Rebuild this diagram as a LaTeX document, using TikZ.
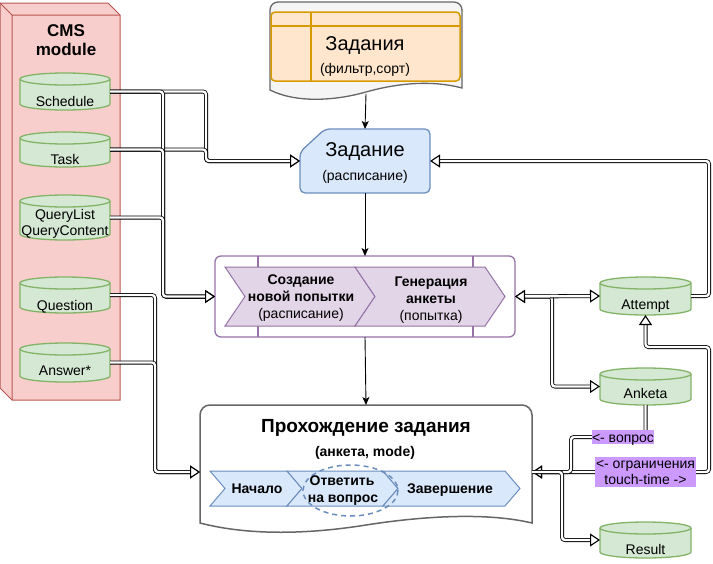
\documentclass[tikz,border=0pt]{standalone}
\usepackage{fontspec}
\setmainfont{Liberation Sans}
\usetikzlibrary{arrows.meta}
\definecolor{cmsfill}{HTML}{F8CECC}
\definecolor{cmsline}{HTML}{B85450}
\definecolor{gfill}{HTML}{D5E8D4}
\definecolor{gline}{HTML}{82B366}
\definecolor{ofill}{HTML}{FFE6CC}
\definecolor{oline}{HTML}{D79B00}
\definecolor{bfill}{HTML}{DAE8FC}
\definecolor{bline}{HTML}{6C8EBF}
\definecolor{pfill}{HTML}{E1D5E7}
\definecolor{pline}{HTML}{9673A6}
\definecolor{docfill}{HTML}{F5F5F5}
\definecolor{docline}{HTML}{666666}
\definecolor{lblfill}{HTML}{CC99FF}
\tikzset{
  t14/.style={font=\fontsize{14}{17}\selectfont, inner sep=0pt, anchor=base},
  b14/.style={font=\fontsize{14}{17}\selectfont\bfseries, inner sep=0pt, anchor=base},
  t20/.style={font=\fontsize{20}{24}\selectfont, inner sep=0pt, anchor=base},
  b19/.style={font=\fontsize{19}{23}\selectfont\bfseries, inner sep=0pt, anchor=base},
  b17/.style={font=\fontsize{17}{20}\selectfont\bfseries, inner sep=0pt, anchor=base},
  box/.style={inner sep=0pt, outer sep=0pt},
  cylbody/.style={fill=gfill, draw=gline, line width=1.3pt},
  conn/.style={draw=black, line width=0.8pt, double=white, double distance=2.4pt, rounded corners=3pt},
  htip/.tip={Triangle[length=10pt,width=13pt,fill=white,line width=1.1pt]},
  hd/.style={-htip},
  tips/.style={htip-htip},
  flow/.style={draw=black, line width=0.9pt, -{Stealth[length=8pt,width=7pt,inset=2pt]}},
  lblbox/.style={box, fill=lblfill},
}
% name, x0, y0, x1, y1
\newcommand\dbcyl[5]{%
  \pgfmathsetmacro\cyA{(#4-#2)/2}%
  \draw[cylbody] (#2,#3+6) -- (#2,#5-6) arc[start angle=180,end angle=0,x radius=\cyA,y radius=6]
     -- (#4,#3+6) arc[start angle=0,end angle=-180,x radius=\cyA,y radius=6] -- cycle;
  \draw[cylbody, fill=none] (#2,#3+6) arc[start angle=180,end angle=0,x radius=\cyA,y radius=6];
  \node[box, minimum width={(#4-#2)*1pt}, minimum height={(#5-#3)*1pt}] (#1) at ({(#2+#4)/2},{(#3+#5)/2}) {};
}
\begin{document}
\begin{tikzpicture}[x=1pt,y=-1pt]
\useasboundingbox (0,0) rectangle (713,563);

% ---------- CMS module cube
\node[box, minimum width=108pt, minimum height=385pt] (cms) at (66,207.5) {};
\draw[cmsline, fill=cmsfill, line width=1pt]
  (0,3) -- (108,3) -- (120,15) -- (120,400) -- (12,400) -- (0,388) -- cycle;
\draw[cmsline, line width=1pt] (0,3) -- (12,15) -- (120,15) (12,15) -- (12,400);
\node[b17] (cms-t1) at (66,36.5) {CMS};
\node[b17] (cms-t2) at (66,55) {module};

\dbcyl{sch}{20}{73}{110}{110}
\node[t14] (sch-t) at (65,106) {Schedule};
\dbcyl{task}{20}{132}{110}{167}
\node[t14] (task-t) at (65,164) {Task};
\dbcyl{ql}{20}{195}{110}{240}
\node[t14] (ql-t1) at (65,219) {QueryList};
\node[t14] (ql-t2) at (65,235) {QueryContent};
\dbcyl{q}{20}{277}{110}{313}
\node[t14] (q-t) at (65,310) {Question};
\dbcyl{ans}{20}{343}{110}{382}
\node[t14] (ans-t) at (65,375) {Answer*};

% ---------- right cylinders
\dbcyl{att}{600}{277}{691}{315}
\node[t14] (att-t) at (645.5,309) {Attempt};
\dbcyl{ank}{600}{368}{691}{405}
\node[t14] (ank-t) at (645.5,398) {Anketa};
\dbcyl{res}{600}{522}{691}{558}
\node[t14] (res-t) at (645.5,554) {Result};

% ---------- top document: Задания
\node[box, minimum width=192pt, minimum height=92pt] (tasks) at (366,48) {};
\draw[docline, fill=docfill, line width=1.3pt]
  (270,90) -- (270,10) arc[start angle=180,end angle=270,radius=8]
  -- (454,2) arc[start angle=270,end angle=360,radius=8]
  -- (462,88) .. controls (432,80) and (398,83) .. (366,92)
  .. controls (338,100) and (298,104) .. (270,90) -- cycle;
\draw[oline, fill=ofill, line width=1.5pt, rounded corners=4pt] (271,12) rectangle (460,81);
\draw[oline, line width=1.5pt] (271,26) -- (460,26) (311,12) -- (311,81);
\node[t20] (tasks-t) at (365,50) {Задания};
\node[t14] (tasks-s) at (365,73) {(фильтр,сорт)};

% ---------- Задание card
\node[box, minimum width=130pt, minimum height=64pt] (zad) at (365,161) {};
\draw[bline, fill=bfill, line width=1.3pt, rounded corners=5pt]
  (325,129) -- (430,129) -- (430,193) -- (300,193) -- (300,152) -- cycle;
\node[t20] (zad-t) at (365,156) {Задание};
\node[t14] (zad-s) at (365,180) {(расписание)};

% ---------- process container
\node[box, minimum width=300pt, minimum height=81pt] (proc) at (365,296.5) {};
\draw[pline, fill=white, line width=1.3pt, rounded corners=6pt] (215,256) rectangle (515,337);
\draw[pline, line width=1.3pt] (258,256) -- (258,337) (473,256) -- (473,337);
\draw[pline, fill=pfill, line width=1pt]
  (225,267) -- (355,267) -- (375,296.5) -- (355,326) -- (225,326) -- (245,296.5) -- cycle;
\draw[pline, fill=pfill, line width=1pt]
  (355,267) -- (485,267) -- (505,296.5) -- (485,326) -- (355,326) -- (375,296.5) -- cycle;
\node[b14] (p1a) at (301,284) {Создание};
\node[b14] (p1b) at (301,301) {новой попытки};
\node[t14] (p1c) at (301,318) {(расписание)};
\node[b14] (p2a) at (431,286) {Генерация};
\node[b14] (p2b) at (431,303) {анкеты};
\node[t14] (p2c) at (431,320) {(попытка)};

% ---------- bottom document
\node[box, minimum width=332pt, minimum height=120pt] (bot) at (366,465) {};
\draw[docline, fill=white, line width=1.5pt]
  (200,523) -- (200,415) arc[start angle=180,end angle=270,radius=10]
  -- (522,405) arc[start angle=270,end angle=360,radius=10]
  -- (532,523) .. controls (490,513) and (430,515) .. (366,525)
  .. controls (310,534) and (250,536) .. (200,523) -- cycle;
\node[b19] (bot-t) at (366,432) {Прохождение задания};
\node[b14] (bot-s) at (365,456) {(анкета, mode)};
\draw[bline, fill=bfill, line width=1pt]
  (210,471) -- (287,471) -- (302,488.5) -- (287,506) -- (210,506) -- (225,488.5) -- cycle;
\draw[bline, fill=bfill, line width=1pt]
  (287,471) -- (383,471) -- (398,488.5) -- (383,506) -- (287,506) -- (302,488.5) -- cycle;
\draw[bline, fill=bfill, line width=1pt]
  (383,471) -- (505,471) -- (520,488.5) -- (505,506) -- (383,506) -- (398,488.5) -- cycle;
\draw[bline, line width=1.5pt, dash pattern=on 5pt off 4pt] (350.5,490.5) ellipse[x radius=47.5, y radius=25.5];
\node[b14] (s1) at (257,493) {Начало};
\node[b14] (s2a) at (342,485) {Ответить};
\node[b14] (s2b) at (343,502) {на вопрос};
\node[b14] (s3) at (450,493) {Завершение};

% ---------- flow arrows
\draw[flow] (tasks.south) -- (zad.north);
\draw[flow] (zad.south) -- (proc.north);
\draw[flow] (proc.south) -- (bot.north);

% ---------- bus coordinates
\coordinate (b0) at (155,0);
\coordinate (b1) at (163,0);
\coordinate (b2) at (206,0);
\coordinate (b3) at (552,0);
\coordinate (b4) at (571,0);
\coordinate (b5) at (562,0);
\coordinate (ra) at (709,347);
\coordinate (rb) at (709,0);

% ---------- links from CMS
\draw[conn, hd] (sch.east) -- (sch.east -| b2) |- (zad.west);
\draw[conn, hd] (task.east) -- (task.east -| b2) |- (zad.west);
\draw[conn, hd] (sch.east) -- (sch.east -| b1) |- (proc.west);
\draw[conn, hd] (task.east) -- (task.east -| b1) |- (proc.west);
\draw[conn, hd] (ql.east) -- (ql.east -| b1) |- (proc.west);
\draw[conn, hd] (q.east) -- (q.east -| b0) |- ([yshift=-7pt]bot.west);
\draw[conn, hd] (ans.east) -- (ans.east -| b0) |- ([yshift=-7pt]bot.west);

% ---------- right links
\draw[conn, hd] (att.east) -- (att.east -| rb) |- (zad.east);
\draw[conn, tips] (proc.east) -- (proc.east -| b3) |- (ank.west);
\draw[conn, tips] (proc.east) -- (att.west);
\draw[conn, tips] (att.south) |- (ra) |- ([yshift=-7pt]bot.east);
\node[lblbox, minimum width=60pt, minimum height=14pt] (lq) at (623,437) {};
\draw[conn, hd] (ank.south) -- (ank.south |- lq) -- (lq -| b4) |- ([yshift=-7pt]bot.east);
\draw[conn, hd] ([yshift=-7pt]bot.east) -- ([yshift=-7pt]bot.east -| b5) |- (res.west);

% ---------- labels
\node[lblbox, minimum width=62pt, minimum height=14pt] (lq2) at (623,437) {};
\node[t14] (lq-t) at (623,442) {<- вопрос};
\node[lblbox, minimum width=101pt, minimum height=30pt] (lt) at (645.5,472) {};
\node[t14] (lt-t1) at (645.5,468) {<- ограничения};
\node[t14] (lt-t2) at (645.5,484) {touch-time ->};
\end{tikzpicture}
\end{document}
